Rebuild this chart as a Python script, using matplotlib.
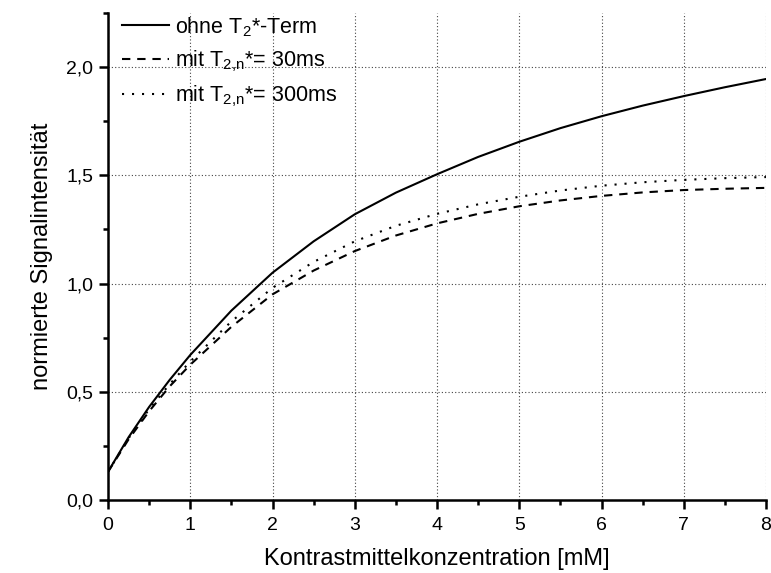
import matplotlib
matplotlib.use("Agg")
import matplotlib.pyplot as plt
from matplotlib.ticker import MultipleLocator, FuncFormatter

plt.rcParams['font.family'] = ['Liberation Sans', 'DejaVu Sans']
plt.rcParams['mathtext.fontset'] = 'custom'
plt.rcParams['mathtext.rm'] = 'Liberation Sans'
plt.rcParams['mathtext.it'] = 'Liberation Sans'

conc = [0, 0.25, 0.5, 0.75, 1, 1.5, 2, 2.5, 3, 3.5, 4, 4.5, 5, 5.5, 6, 6.5, 7, 7.5, 8]
ohne_t2 = [0.13, 0.29, 0.43, 0.555, 0.67, 0.875, 1.05, 1.195, 1.32, 1.42, 1.505,
           1.585, 1.655, 1.718, 1.773, 1.822, 1.866, 1.907, 1.945]
t2_30ms = [0.13, 0.28, 0.41, 0.525, 0.625, 0.80, 0.95, 1.06, 1.15, 1.222, 1.278,
           1.322, 1.357, 1.384, 1.405, 1.421, 1.432, 1.438, 1.442]
t2_300ms = [0.13, 0.285, 0.42, 0.535, 0.64, 0.825, 0.98, 1.10, 1.195, 1.267, 1.322,
            1.366, 1.401, 1.43, 1.452, 1.468, 1.479, 1.487, 1.492]

labels = ["ohne T$_2$*-Term", "mit T$_{2{,}n}$*= 30ms", "mit T$_{2{,}n}$*= 300ms"]

fig = plt.figure(figsize=(7.71, 5.73), dpi=100)
ax = fig.add_axes([108/771, 73/573, (766-108)/771, (500-13)/573])

ax.plot(conc, ohne_t2, color='black', lw=1.5, ls='-', label=labels[0])
ax.plot(conc, t2_30ms, color='black', lw=1.5, ls=(0, (4, 3.3)), label=labels[1])
ax.plot(conc, t2_300ms, color='black', lw=1.5, ls=(0, (1, 3.8)), label=labels[2])

ax.set_xlim(0, 8)
ax.set_ylim(0, 2.25)
ax.xaxis.set_major_locator(MultipleLocator(1))
ax.xaxis.set_minor_locator(MultipleLocator(0.5))
ax.yaxis.set_major_locator(MultipleLocator(0.5))
ax.yaxis.set_minor_locator(MultipleLocator(0.25))
ax.yaxis.set_major_formatter(FuncFormatter(lambda v, p: f"{v:.1f}".replace('.', ',')))

for s in ['top', 'right']:
    ax.spines[s].set_visible(False)
for s in ['left', 'bottom']:
    ax.spines[s].set_linewidth(1.8)

ax.tick_params(which='major', direction='out', length=6.5, width=1.8, labelsize=14)
ax.tick_params(axis='x', which='major', pad=5.5)
ax.tick_params(axis='y', which='major', pad=4)
ax.tick_params(which='minor', direction='out', length=3.6, width=1.8)
ax.grid(True, which='major', color='#444444', ls=(0, (1, 2)), lw=0.8)

ax.set_xlabel("Kontrastmittelkonzentration [mM]", fontsize=17, labelpad=10)
ax.set_ylabel("normierte Signalintensität", fontsize=17, labelpad=10)

ax.legend(loc='upper left', bbox_to_anchor=(14/658, 0.996), frameon=False, fontsize=15.5,
          handlelength=2.2, borderaxespad=0.0, borderpad=0.0, labelspacing=0.45,
          handletextpad=0.25)

fig.savefig("out.png", dpi=100)
